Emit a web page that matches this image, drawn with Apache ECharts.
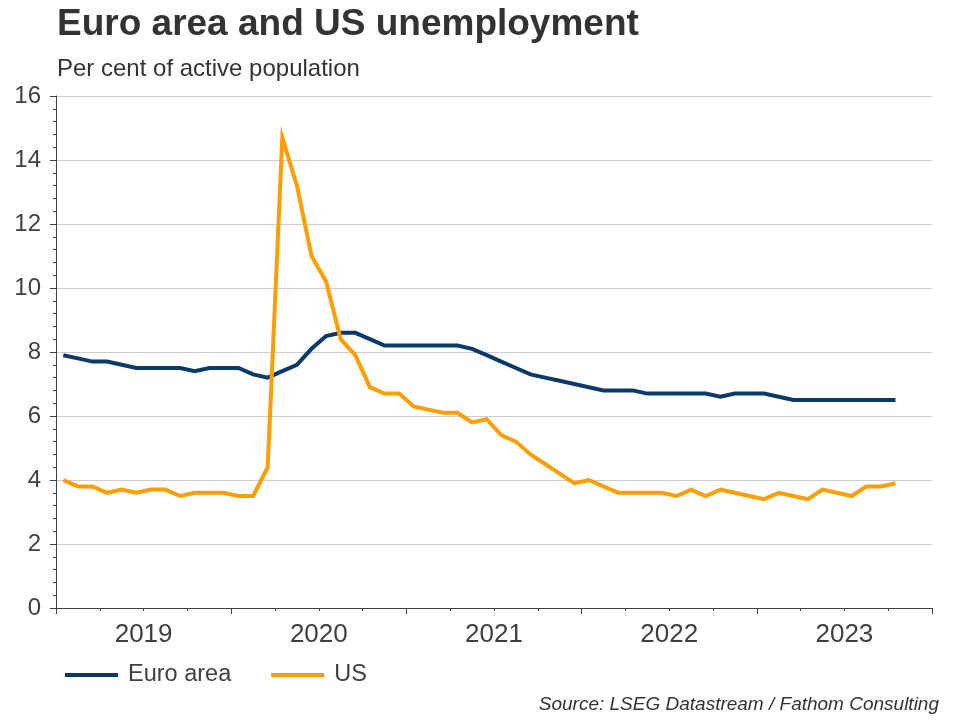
<!DOCTYPE html>
<html>
<head>
<meta charset="utf-8">
<script src="https://cdn.jsdelivr.net/npm/echarts@6/dist/echarts.min.js"></script>
<style>
html,body{margin:0;padding:0;background:#fff;}
#chart{width:960px;height:720px;}
</style>
</head>
<body>
<div id="chart"></div>
<script>
const years = ['2019', '2020', '2021', '2022', '2023'];
const monthNums = ['01','02','03','04','05','06','07','08','09','10','11','12'];
const yTicks = [0, 2, 4, 6, 8, 10, 12, 14, 16];

const euroArea = [
  7.9, 7.8, 7.7, 7.7, 7.6, 7.5, 7.5, 7.5, 7.5, 7.4, 7.5, 7.5,
  7.5, 7.3, 7.2, 7.4, 7.6, 8.1, 8.5, 8.6, 8.6, 8.4, 8.2, 8.2,
  8.2, 8.2, 8.2, 8.2, 8.1, 7.9, 7.7, 7.5, 7.3, 7.2, 7.1, 7.0,
  6.9, 6.8, 6.8, 6.8, 6.7, 6.7, 6.7, 6.7, 6.7, 6.6, 6.7, 6.7,
  6.7, 6.6, 6.5, 6.5, 6.5, 6.5, 6.5, 6.5, 6.5, 6.5
];
const us = [
  4.0, 3.8, 3.8, 3.6, 3.7, 3.6, 3.7, 3.7, 3.5, 3.6, 3.6, 3.6,
  3.5, 3.5, 4.4, 14.7, 13.2, 11.0, 10.2, 8.4, 7.9, 6.9, 6.7, 6.7,
  6.3, 6.2, 6.1, 6.1, 5.8, 5.9, 5.4, 5.2, 4.8, 4.5, 4.2, 3.9,
  4.0, 3.8, 3.6, 3.6, 3.6, 3.6, 3.5, 3.7, 3.5, 3.7, 3.6, 3.5,
  3.4, 3.6, 3.5, 3.4, 3.7, 3.6, 3.5, 3.8, 3.8, 3.9
];

const months = [];
years.forEach(y => monthNums.forEach(m => months.push(y + '-' + m)));

const FONT = '"Liberation Sans", Arial, sans-serif';
const TXT = '#404040';

const chart = echarts.init(document.getElementById('chart'), null, {renderer: 'canvas'});
chart.setOption({
  animation: false,
  backgroundColor: '#ffffff',
  textStyle: {fontFamily: FONT},
  grid: {left: 56, right: 28, top: 96, bottom: 112, containLabel: false},
  graphic: [
    {type: 'text', left: 57, top: 6, style: {text: 'Euro area and US unemployment', font: 'bold 37px ' + FONT, fill: '#333333'}},
    {type: 'text', left: 57, top: 57, style: {text: 'Per cent of active population', font: '24px ' + FONT, fill: '#333333'}},
    {type: 'text', right: 21, top: 695, style: {text: 'Source: LSEG Datastream / Fathom Consulting', font: 'italic 19px ' + FONT, fill: '#333333'}}
  ],
  legend: {
    left: 65, top: 663, padding: 0,
    icon: 'rect', itemWidth: 53, itemHeight: 4, itemGap: 40,
    textStyle: {fontSize: 23.5, color: TXT, fontFamily: FONT, padding: [0, 0, 0, 5]},
    data: ['Euro area', 'US']
  },
  xAxis: [
    {
      type: 'category', data: months, boundaryGap: true, position: 'bottom',
      axisLine: {show: true, lineStyle: {color: TXT, width: 1}},
      axisTick: {show: true, interval: (i) => i % 3 === 0, length: 3, lineStyle: {color: TXT}},
      axisLabel: {show: false}, splitLine: {show: false}
    },
    {
      type: 'category', data: months, boundaryGap: true, position: 'bottom',
      axisLine: {show: false},
      axisTick: {show: true, interval: (i) => i % 12 === 0, length: 6, lineStyle: {color: TXT}},
      axisLabel: {show: false}, splitLine: {show: false}
    },
    {
      type: 'category', data: years, boundaryGap: true, position: 'bottom',
      axisLine: {show: false}, axisTick: {show: false}, splitLine: {show: false},
      axisLabel: {fontSize: 26, color: TXT, margin: 14, fontFamily: FONT}
    }
  ],
  yAxis: {
    type: 'value', min: yTicks[0], max: yTicks[yTicks.length - 1], interval: 2,
    axisLine: {show: true, lineStyle: {color: TXT, width: 1}},
    axisTick: {show: true, length: 6, lineStyle: {color: TXT}},
    minorTick: {show: true, splitNumber: 5, length: 3, lineStyle: {color: TXT}},
    splitLine: {show: true, lineStyle: {color: '#cccccc', width: 1}},
    axisLabel: {fontSize: 24, color: TXT, margin: 15, fontFamily: FONT}
  },
  series: [
    {
      name: 'Euro area', type: 'line', xAxisIndex: 0, data: euroArea,
      showSymbol: false, symbol: 'none', color: '#0b3a6a',
      lineStyle: {width: 4, color: '#0b3a6a', join: 'miter'}, z: 2
    },
    {
      name: 'US', type: 'line', xAxisIndex: 0, data: us,
      showSymbol: false, symbol: 'none', color: '#ff9e00',
      lineStyle: {width: 4, color: '#ff9e00', join: 'miter'}, z: 3
    }
  ]
});
</script>
</body>
</html>
